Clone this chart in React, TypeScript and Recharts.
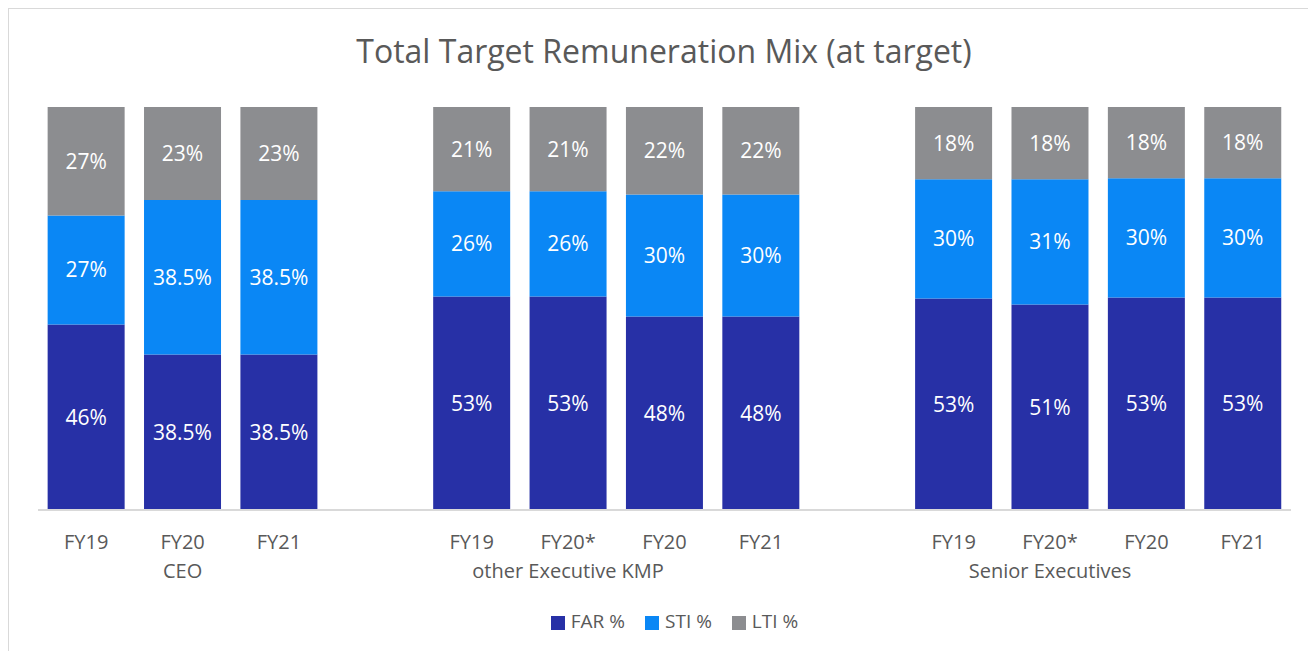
import React from 'react';
import { BarChart, Bar, XAxis, YAxis, Legend, LabelList } from 'recharts';

const periods = ['FY19', 'FY20', 'FY21', '', 'FY19', 'FY20*', 'FY20', 'FY21', '', 'FY19', 'FY20*', 'FY20', 'FY21'];
const groupNames = ['', 'CEO', '', '', '', 'other Executive KMP', '', '', '', '', 'Senior Executives', '', ''];
const seriesOrder = ['FAR %', 'STI %', 'LTI %'];

// segment heights (each bar totals 100)
const farValues = [46, 38.6, 38.6, null, 53, 53, 48, 48, null, 52.5, 51, 52.7, 52.7];
const stiValues = [27.1, 38.3, 38.3, null, 26.1, 26.1, 30.3, 30.3, null, 29.6, 31.1, 29.6, 29.6];
const ltiValues = [26.9, 23.1, 23.1, null, 20.9, 20.9, 21.7, 21.7, null, 17.9, 17.9, 17.7, 17.7];

// data labels as printed on the chart
const farLabels = ['46%', '38.5%', '38.5%', '', '53%', '53%', '48%', '48%', '', '53%', '51%', '53%', '53%'];
const stiLabels = ['27%', '38.5%', '38.5%', '', '26%', '26%', '30%', '30%', '', '30%', '31%', '30%', '30%'];
const ltiLabels = ['27%', '23%', '23%', '', '21%', '21%', '22%', '22%', '', '18%', '18%', '18%', '18%'];

const FONT = '"Open Sans", "Noto Sans", sans-serif';
const TEXT = '#595959';

const chartData = periods.map((period, i) => ({
  period,
  far: farValues[i],
  sti: stiValues[i],
  lti: ltiValues[i],
  farLabel: farLabels[i],
  stiLabel: stiLabels[i],
  ltiLabel: ltiLabels[i],
}));

function CategoryTick({ x, y, payload, index }: any) {
  const group = groupNames[payload?.index ?? index];
  return (
    <g>
      <text x={x} y={y + 39} textAnchor="middle" fill={TEXT} fontSize={20} fontFamily={FONT}>
        {payload.value}
      </text>
      {group ? (
        <text x={x} y={y + 68} textAnchor="middle" fill={TEXT} fontSize={20} fontFamily={FONT}>
          {group}
        </text>
      ) : null}
    </g>
  );
}

export default function App() {
  return (
    <div style={{ position: 'absolute', left: 0, top: 0, width: 1308, height: 651, overflow: 'hidden', background: '#fff' }}>
      <div
        style={{
          position: 'absolute', left: 8, top: 8, width: 1320, height: 660,
          border: '1px solid #d9d9d9', boxSizing: 'border-box',
        }}
      />
      <div
        style={{
          position: 'absolute', left: 0, top: 30, width: 1328, textAlign: 'center',
          fontFamily: FONT, fontSize: 32, color: TEXT, lineHeight: '42px',
        }}
      >
        Total Target Remuneration Mix (at target)
      </div>
      <div style={{ position: 'absolute', left: 0, top: 0 }}>
        <BarChart
          width={1308}
          height={651}
          data={chartData}
          margin={{ top: 107, right: 17, bottom: 17, left: 38 }}
          barCategoryGap="10%"
        >
          <XAxis
            dataKey="period"
            axisLine={{ stroke: '#d9d9d9', strokeWidth: 2 }}
            tickLine={false}
            tickSize={0}
            tickMargin={0}
            interval={0}
            height={98}
            tick={<CategoryTick />}
          />
          <YAxis hide domain={[0, 100]} allowDataOverflow />
          <Legend
            verticalAlign="bottom"
            align="center"
            iconType="square"
            iconSize={14}
            itemSorter={(item: any) => seriesOrder.indexOf(item.value)}
            wrapperStyle={{ fontFamily: FONT, fontSize: 19, paddingLeft: 20 }}
            formatter={(value) => <span style={{ color: TEXT, marginRight: 10, marginLeft: 2 }}>{value}</span>}
          />
          <Bar dataKey="far" name="FAR %" stackId="mix" fill="#2730A6" isAnimationActive={false}>
            <LabelList dataKey="farLabel" position="center" fill="#ffffff" fontSize={21} fontFamily={FONT} />
          </Bar>
          <Bar dataKey="sti" name="STI %" stackId="mix" fill="#0A87F5" isAnimationActive={false}>
            <LabelList dataKey="stiLabel" position="center" fill="#ffffff" fontSize={21} fontFamily={FONT} />
          </Bar>
          <Bar dataKey="lti" name="LTI %" stackId="mix" fill="#8C8D90" isAnimationActive={false}>
            <LabelList dataKey="ltiLabel" position="center" fill="#ffffff" fontSize={21} fontFamily={FONT} />
          </Bar>
        </BarChart>
      </div>
    </div>
  );
}
